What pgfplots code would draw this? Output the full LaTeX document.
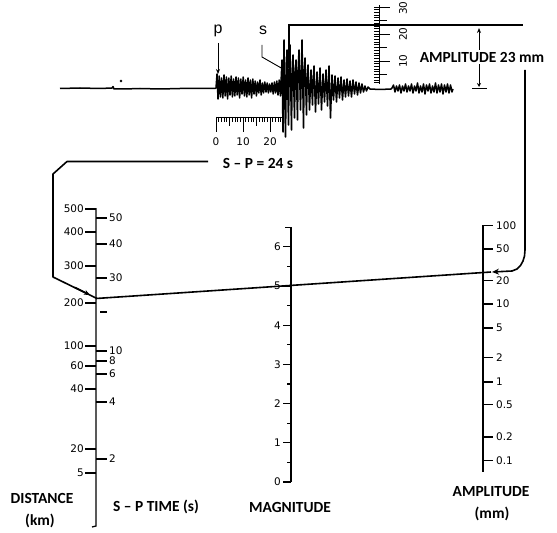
\documentclass[border=0pt]{standalone}
\usepackage{pgfplots}
\pgfplotsset{compat=1.18}
\usetikzlibrary{arrows.meta}
\usepackage{fontspec}
\setmainfont{Carlito}
\newfontfamily\tickfont{DejaVu Sans}
\newfontfamily\psfont{Liberation Sans}
\begin{document}
\begin{tikzpicture}[
  tl/.style={font=\tickfont\fontsize{10.5}{12}\selectfont, inner sep=0pt},
  bl/.style={font=\bfseries\fontsize{15.5}{18}\selectfont, inner sep=0pt, align=center}]
\begin{axis}[scale only axis, width=557bp, height=533bp,
  xmin=0, xmax=557, ymin=0, ymax=533, y dir=reverse,
  hide axis, clip=false, unbounded coords=jump]
\addplot[draw=none] coordinates {(0,0) (557,533)};
% ---------- seismogram trace ----------
\addplot[black, line width=1.5bp, line join=round] coordinates {
(60,88.5)(80,88)(100,88.5)(112,88)(113,86.5)(114,89)(124,89)(140,88.5)(160,89)(180,88.5)(200,88.5)(215,88.5)
(216,88)(217,74)(218,99)(219.2,76)(220.4,97)(221.6,78)(222.8,98)(224,75)(225.2,96)(226.4,77)(227.6,99)(228.8,78)
(230,95)(231.2,76)(232.4,97)(233.6,79)(234.8,96)(236,77)(237.2,95)(238.4,78)(239.6,98)(240.8,79)(242,94)(243.2,77)
(244.4,96)(245.6,80)(246.8,97)(248,78)(249.2,95)(250.4,80)(251.6,98)(252.8,79)(254,94)(255.2,81)(256.4,96)(257.6,82)
(258.8,93)(260,80)(261.2,95)(262.4,83)(263.6,93)(264.8,82)(266,92)(267.2,83)(268.4,93)(269.6,84)(270.8,92)(272,83)
(273.2,94)(274.4,82)(275.6,93)(276.8,81)(278,95)(279.2,80)(280.4,96)
(282,60)(283,132)(284,40)(285,110)(285.5,137)(286.5,62)(287,50)(288.5,125)(289.2,70)(290,45)(291.5,130)(292.2,75)
(293,55)(294.5,118)(295.2,72)(296,60)(297.5,120)(298.2,68)(299,50)(300.5,110)(301.2,80)(302,40)(303.5,128)(304.2,70)
(305,58)(306.5,115)(307.2,78)(308,65)(309.5,110)(311,70)(312.5,105)(313.2,80)
(314,66)(315.5,112)(317,72)(318.5,104)(320,68)(321.5,110)(323,74)(324.5,102)(326,70)(327.5,106)(329,66)
(330.5,118)(332,75)(333.5,100)(335,76)(336.5,102)(338,78)(339.5,98)(341,77)(342.5,100)(344,80)(345.5,97)
(347,79)(348.5,96)(350,81)(351.5,97)(353,80)(354.5,94)(356,82)(357.5,95)(359,83)(360.5,93)(362,84)(363.5,92)
(365,86)(366.5,91)(368,87)(370,89)(380,89.5)(391,89)
(392,88)(393.5,85)(395,92)(396.5,86)(398,91)(399.5,85)(401,93)(402.5,86)(404,91)(405.5,84)
(407,92)(408.5,86)(410,91)(411.5,84)(413,93)(414.5,86)(416,91)(417.5,83)(419,93)(420.5,86)(422,92)(423.5,84)
(425,94)(426.5,85)(428,91)(429.5,84)(431,93)(432.5,86)(434,92)(435.5,83)(437,93)(438.5,85)(440,92)(441.5,84)
(443,94)(444.5,85)(446,92)(447.5,84)(449,93)(450.5,85)(452,92)(453,89)};
\addplot[only marks, mark=*, mark size=1.2bp, black] coordinates {(121,81)};
% p and s markers
\addplot[black, line width=0.9bp, -{Stealth[length=5bp,width=4bp]}] coordinates {(218,43)(218,74)};
\addplot[black, line width=0.9bp] coordinates {(262,45)(262,57)(283,69)};
\node[font=\psfont\fontsize{16}{17}\selectfont, inner sep=0pt] at (axis cs:218,31) {p};
\node[font=\psfont\fontsize{16}{17}\selectfont, inner sep=0pt] at (axis cs:263,30) {s};
% time ruler
\addplot[black, line width=0.8bp] coordinates {(216,117)(282,117)};
\addplot[black, line width=0.8bp] coordinates {
(218.7,117)(218.7,122)(nan,nan)(221.4,117)(221.4,122)(nan,nan)(224.1,117)(224.1,122)(nan,nan)(226.8,117)(226.8,122)(nan,nan)
(232.2,117)(232.2,122)(nan,nan)(234.9,117)(234.9,122)(nan,nan)(237.6,117)(237.6,122)(nan,nan)(240.3,117)(240.3,122)(nan,nan)
(245.7,117)(245.7,122)(nan,nan)(248.4,117)(248.4,122)(nan,nan)(251.1,117)(251.1,122)(nan,nan)(253.8,117)(253.8,122)(nan,nan)
(259.2,117)(259.2,122)(nan,nan)(261.9,117)(261.9,122)(nan,nan)(264.6,117)(264.6,122)(nan,nan)(267.3,117)(267.3,122)(nan,nan)
(272.7,117)(272.7,122)(nan,nan)(275.4,117)(275.4,122)(nan,nan)(278.1,117)(278.1,122)(nan,nan)(280.8,117)(280.8,122)(nan,nan)
(229.5,117)(229.5,126)(nan,nan)(256.5,117)(256.5,126)(nan,nan)
(216,117)(216,132)(nan,nan)(243,117)(243,132)(nan,nan)(270,117)(270,132)};
\node[tl] at (axis cs:216,142) {0};
\node[tl] at (axis cs:243,142) {10};
\node[tl] at (axis cs:270,142) {20};
% amplitude ruler
\addplot[black, line width=0.9bp] coordinates {(379,5)(379,84)};
\addplot[black, line width=0.7bp] coordinates {
(374,82.6)(379,82.6)(nan,nan)(374,79.9)(379,79.9)(nan,nan)(374,77.2)(379,77.2)(nan,nan)(374,71.8)(379,71.8)(nan,nan)
(374,69.1)(379,69.1)(nan,nan)(374,66.4)(379,66.4)(nan,nan)(374,63.7)(379,63.7)(nan,nan)(374,58.3)(379,58.3)(nan,nan)
(374,55.6)(379,55.6)(nan,nan)(374,52.9)(379,52.9)(nan,nan)(374,50.2)(379,50.2)(nan,nan)(374,44.8)(379,44.8)(nan,nan)
(374,42.1)(379,42.1)(nan,nan)(374,39.4)(379,39.4)(nan,nan)(374,36.7)(379,36.7)(nan,nan)(374,31.3)(379,31.3)(nan,nan)
(374,28.6)(379,28.6)(nan,nan)(374,25.9)(379,25.9)(nan,nan)(374,23.2)(379,23.2)(nan,nan)(374,17.8)(379,17.8)(nan,nan)
(374,15.1)(379,15.1)(nan,nan)(374,12.4)(379,12.4)(nan,nan)(374,9.7)(379,9.7)};
\addplot[black, line width=0.9bp] coordinates {
(374,74.5)(387,74.5)(nan,nan)(374,61)(390,61)(nan,nan)(374,47.5)(387,47.5)(nan,nan)
(374,34)(390,34)(nan,nan)(374,20.5)(387,20.5)(nan,nan)(374,7)(390,7)};
\node[tl, rotate=90] at (axis cs:403,61) {10};
\node[tl, rotate=90] at (axis cs:403,34) {20};
\node[tl, rotate=90] at (axis cs:403,8) {30};
% amplitude bracket
\addplot[black, line width=1.4bp] coordinates {(289,68)(289,25)(523,25)};
\addplot[black, line width=0.9bp, {Stealth[length=5bp,width=4bp]}-{Stealth[length=4bp,width=4bp]}] coordinates {(479,28)(479,87)};
\addplot[black, line width=0.9bp] coordinates {(472,88)(487,88)};
% ---------- nomogram scales ----------
\addplot[black, line width=1.3bp] coordinates {(96,208)(96,526)(92,527)};
\addplot[black, line width=1.2bp] coordinates {
(85,209)(96,209)(nan,nan)(85,232)(96,232)(nan,nan)(85,266)(96,266)(nan,nan)(85,303)(96,303)(nan,nan)
(85,346)(96,346)(nan,nan)(85,366)(96,366)(nan,nan)(85,389)(96,389)(nan,nan)(85,449)(96,449)(nan,nan)(85,473)(96,473)};
\addplot[black, line width=1.2bp] coordinates {
(96,218)(107,218)(nan,nan)(96,244)(107,244)(nan,nan)(96,278)(107,278)(nan,nan)(100,312)(107,312)(nan,nan)
(96,351)(107,351)(nan,nan)(96,361)(107,361)(nan,nan)(96,374)(107,374)(nan,nan)(96,402)(107,402)(nan,nan)(96,459)(107,459)};
\node[tl, anchor=east] at (axis cs:84,209) {500};
\node[tl, anchor=east] at (axis cs:84,232) {400};
\node[tl, anchor=east] at (axis cs:84,266) {300};
\node[tl, anchor=east] at (axis cs:84,303) {200};
\node[tl, anchor=east] at (axis cs:84,346) {100};
\node[tl, anchor=east] at (axis cs:84,366) {60};
\node[tl, anchor=east] at (axis cs:84,389) {40};
\node[tl, anchor=east] at (axis cs:84,449) {20};
\node[tl, anchor=east] at (axis cs:84,473) {5};
\node[tl, anchor=west] at (axis cs:109,218) {50};
\node[tl, anchor=west] at (axis cs:109,244) {40};
\node[tl, anchor=west] at (axis cs:109,278) {30};
\node[tl, anchor=west] at (axis cs:109,351) {10};
\node[tl, anchor=west] at (axis cs:109,361) {8};
\node[tl, anchor=west] at (axis cs:109,374) {6};
\node[tl, anchor=west] at (axis cs:109,402) {4};
\node[tl, anchor=west] at (axis cs:109,459) {2};
% magnitude
\addplot[black, line width=1.3bp] coordinates {(291,227)(291,482)};
\addplot[black, line width=1.2bp] coordinates {
(283,482)(291,482)(nan,nan)(283,442.8)(291,442.8)(nan,nan)(283,403.6)(291,403.6)(nan,nan)(283,364.4)(291,364.4)(nan,nan)
(283,325.2)(291,325.2)(nan,nan)(283,286)(291,286)(nan,nan)(283,246.8)(291,246.8)(nan,nan)
(287,462.4)(291,462.4)(nan,nan)(287,423.2)(291,423.2)(nan,nan)(287,384)(291,384)(nan,nan)(287,344.8)(291,344.8)(nan,nan)
(287,305.6)(291,305.6)(nan,nan)(287,266.4)(291,266.4)(nan,nan)(285,227.2)(291,227.2)};
\node[tl, anchor=east] at (axis cs:281,482) {0};
\node[tl, anchor=east] at (axis cs:281,442.8) {1};
\node[tl, anchor=east] at (axis cs:281,403.6) {2};
\node[tl, anchor=east] at (axis cs:281,364.4) {3};
\node[tl, anchor=east] at (axis cs:281,325.2) {4};
\node[tl, anchor=east] at (axis cs:281,286) {5};
\node[tl, anchor=east] at (axis cs:281,246.8) {6};
% amplitude scale
\addplot[black, line width=1.3bp] coordinates {(483,225)(483,472)};
\addplot[black, line width=1.2bp] coordinates {
(483,225.5)(493,225.5)(nan,nan)(483,249)(493,249)(nan,nan)(483,280.5)(493,280.5)(nan,nan)(483,304)(493,304)(nan,nan)
(483,328)(493,328)(nan,nan)(483,357.5)(493,357.5)(nan,nan)(483,382)(493,382)(nan,nan)(483,404.5)(493,404.5)(nan,nan)
(483,437)(493,437)(nan,nan)(483,460.5)(493,460.5)};
\node[tl, anchor=west] at (axis cs:496,225.5) {100};
\node[tl, anchor=west] at (axis cs:496,249) {50};
\node[tl, anchor=west] at (axis cs:496,280.5) {20};
\node[tl, anchor=west] at (axis cs:496,304) {10};
\node[tl, anchor=west] at (axis cs:496,328) {5};
\node[tl, anchor=west] at (axis cs:496,357.5) {2};
\node[tl, anchor=west] at (axis cs:496,382) {1};
\node[tl, anchor=west] at (axis cs:496,404.5) {0.5};
\node[tl, anchor=west] at (axis cs:496,437) {0.2};
\node[tl, anchor=west] at (axis cs:496,460.5) {0.1};
% ---------- connecting paths ----------
\addplot[black, line width=1.6bp] coordinates {(96,298.5)(491,272)};
\addplot[black, line width=1.6bp, line join=round, -{Stealth[length=7bp,width=6bp]}] coordinates {
(525,70)(525,250)(524.5,256)(523,261)(520.5,265.5)(517,269)(512,271)(492,272)};
\addplot[black, line width=1.6bp, line join=round] coordinates {(208,161.5)(67,161.5)(53,174)(53,277)(97,298.5)};
\addplot[black, line width=1.6bp, -{Stealth[length=6bp,width=5bp]}] coordinates {(75,287.5)(90,295)};
% ---------- text ----------
\node[bl, fill=white, inner sep=2pt] at (axis cs:482,57) {AMPLITUDE 23 mm};
\node[bl] at (axis cs:258,163) {S -- P = 24 s};
\node[bl] at (axis cs:42,498) {DISTANCE};
\node[bl] at (axis cs:40,521) {(km)};
\node[bl] at (axis cs:156,507) {S -- P TIME (s)};
\node[bl] at (axis cs:290,507) {MAGNITUDE};
\node[bl] at (axis cs:491,492) {AMPLITUDE};
\node[bl] at (axis cs:492,514) {(mm)};
\end{axis}
\end{tikzpicture}
\end{document}
